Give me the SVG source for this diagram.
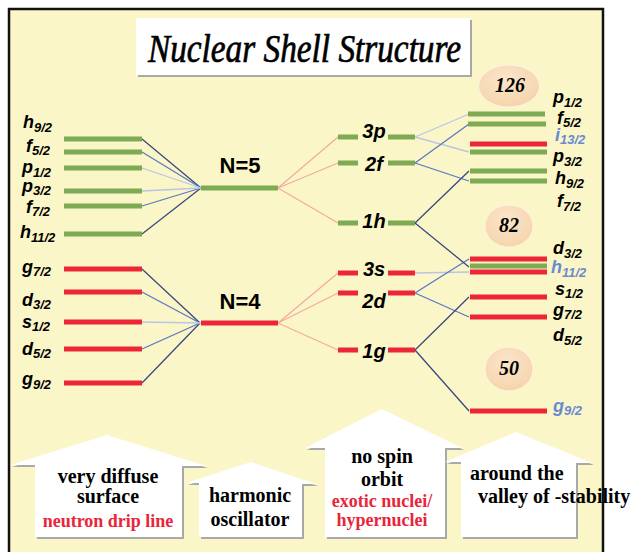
<svg xmlns="http://www.w3.org/2000/svg" width="642" height="552" viewBox="0 0 642 552">
<defs>
<radialGradient id="ov" cx="0.45" cy="0.35" r="0.7">
<stop offset="0" stop-color="#fbe6cc"/>
<stop offset="1" stop-color="#f5d3a9"/>
</radialGradient>
<style>
.g{stroke:#7daa52;stroke-width:5}
.r{stroke:#ec2637;stroke-width:5}
.dk{stroke:#3b4a7e;stroke-width:1.3;fill:none}
.md{stroke:#5a78c2;stroke-width:1.3;fill:none}
.lt{stroke:#b9c5e5;stroke-width:1.3;fill:none}
.pk{stroke:#f4aba3;stroke-width:1.3;fill:none}
.lbl{font-family:"Liberation Sans",Arial,sans-serif;font-weight:bold;font-style:italic;font-size:18px;fill:#000}
.sub{font-size:13px}
.blue{fill:#6a8ad0}
.mid{font-family:"Liberation Sans",Arial,sans-serif;font-weight:bold;font-style:italic;font-size:20px;text-anchor:middle}
.nn{font-family:"Liberation Sans",Arial,sans-serif;font-weight:bold;font-size:22px;text-anchor:middle}
.mag{font-family:"Liberation Serif","Times New Roman",serif;font-weight:bold;font-style:italic;font-size:20px;text-anchor:middle}
.oval{fill:url(#ov);stroke:#fff3e6;stroke-width:1}
.arr{font-family:"Liberation Serif","Times New Roman",serif;font-weight:bold;font-size:20px;text-anchor:middle;fill:#000}
.red{fill:#e8253a;font-size:18px}
.sh{fill:#a9a9a9}
.wh{fill:#fff}
</style>
</defs>
<rect x="0" y="0" width="642" height="552" fill="#fff"/>
<rect x="9" y="9" width="594" height="560" fill="#fbf6c7"/>

<g id="title">
<rect x="138" y="20" width="334" height="57" class="sh"/>
<rect x="136" y="18" width="334" height="57" fill="#fff"/>
<text x="148" y="62" font-family="'Liberation Serif','Times New Roman',serif" font-style="italic" font-size="40" stroke="#000" stroke-width="0.7" textLength="313" lengthAdjust="spacingAndGlyphs">Nuclear Shell Structure</text>
</g>

<g id="connectors">
<path class="dk" d="M142 139L201 188M142 234L201 188"/>
<path class="md" d="M142 152L201 188M142 206L201 188"/>
<path class="lt" d="M142 168L201 188M142 191L201 188"/>
<path class="dk" d="M142 269L200 323M142 383L200 323"/>
<path class="md" d="M142 292L200 323M142 349L200 323"/>
<path class="lt" d="M142 322L200 323"/>
<path class="pk" d="M278 188L338 137M278 188L338 163M278 188L338 223M278 323L338 273M278 323L338 293M278 323L338 350"/>
<path class="lt" d="M415 137L469 114M415 137L469 152M415 273L469 272"/>
<path class="md" d="M415 163L469 124M415 163L469 181M415 293L469 259M415 293L469 317"/>
<path class="dk" d="M415 223L469 171M415 223L469 267M415 350L469 297M415 350L469 411"/>
</g>

<g id="left-levels">
<line class="g" x1="64" y1="139" x2="142" y2="139"/>
<line class="g" x1="64" y1="152" x2="142" y2="152"/>
<line class="g" x1="64" y1="168" x2="142" y2="168"/>
<line class="g" x1="64" y1="191" x2="142" y2="191"/>
<line class="g" x1="64" y1="206" x2="142" y2="206"/>
<line class="g" x1="64" y1="234" x2="142" y2="234"/>
<line class="r" x1="64" y1="269" x2="142" y2="269"/>
<line class="r" x1="64" y1="292" x2="142" y2="292"/>
<line class="r" x1="64" y1="322" x2="142" y2="322"/>
<line class="r" x1="64" y1="349" x2="142" y2="349"/>
<line class="r" x1="64" y1="383" x2="142" y2="383"/>
<text class="lbl" x="23" y="128">h<tspan class="sub" dy="4">9/2</tspan></text>
<text class="lbl" x="26" y="152">f<tspan class="sub" dy="3">5/2</tspan></text>
<text class="lbl" x="22" y="173">p<tspan class="sub" dy="4">1/2</tspan></text>
<text class="lbl" x="22" y="192">p<tspan class="sub" dy="3">3/2</tspan></text>
<text class="lbl" x="26" y="213">f<tspan class="sub" dy="3">7/2</tspan></text>
<text class="lbl" x="20" y="238">h<tspan class="sub" dy="4">11/2</tspan></text>
<text class="lbl" x="22" y="273">g<tspan class="sub" dy="3">7/2</tspan></text>
<text class="lbl" x="22" y="306">d<tspan class="sub" dy="3">3/2</tspan></text>
<text class="lbl" x="22" y="328">s<tspan class="sub" dy="3">1/2</tspan></text>
<text class="lbl" x="22" y="355">d<tspan class="sub" dy="3">5/2</tspan></text>
<text class="lbl" x="22" y="385">g<tspan class="sub" dy="4">9/2</tspan></text>
</g>

<g id="N5">
<line class="g" x1="201" y1="188" x2="278" y2="188"/>
<text class="nn" x="240" y="173">N=5</text>
</g>
<g id="N4">
<line class="r" x1="201" y1="323" x2="278" y2="323"/>
<text class="nn" x="240" y="309">N=4</text>
</g>

<g id="sub-3p"><line class="g" x1="338" y1="137" x2="358" y2="137"/><line class="g" x1="388" y1="137" x2="415" y2="137"/><text class="mid" x="374" y="138">3p</text></g>
<g id="sub-2f"><line class="g" x1="338" y1="163" x2="358" y2="163"/><line class="g" x1="388" y1="163" x2="415" y2="163"/><text class="mid" x="374" y="171">2f</text></g>
<g id="sub-1h"><line class="g" x1="338" y1="223" x2="358" y2="223"/><line class="g" x1="388" y1="223" x2="415" y2="223"/><text class="mid" x="374" y="228">1h</text></g>
<g id="sub-3s"><line class="r" x1="338" y1="273" x2="358" y2="273"/><line class="r" x1="388" y1="273" x2="415" y2="273"/><text class="mid" x="374" y="276">3s</text></g>
<g id="sub-2d"><line class="r" x1="338" y1="293" x2="358" y2="293"/><line class="r" x1="388" y1="293" x2="415" y2="293"/><text class="mid" x="374" y="308">2d</text></g>
<g id="sub-1g"><line class="r" x1="338" y1="350" x2="358" y2="350"/><line class="r" x1="388" y1="350" x2="415" y2="350"/><text class="mid" x="374" y="358">1g</text></g>

<g id="right-levels">
<line class="g" x1="468" y1="114" x2="545" y2="114"/>
<line class="g" x1="468" y1="124" x2="546" y2="124"/>
<line class="r" x1="470" y1="144" x2="547" y2="144"/>
<line class="g" x1="470" y1="152" x2="547" y2="152"/>
<line class="g" x1="470" y1="171" x2="547" y2="171"/>
<line class="g" x1="470" y1="181" x2="547" y2="181"/>
<line class="r" x1="470" y1="259" x2="547" y2="259"/>
<line class="g" x1="470" y1="266" x2="547" y2="266"/>
<line class="r" x1="470" y1="272" x2="547" y2="272"/>
<line class="r" x1="470" y1="297" x2="547" y2="297"/>
<line class="r" x1="470" y1="317" x2="547" y2="317"/>
<line class="r" x1="470" y1="411" x2="547" y2="411"/>
<text class="lbl" x="553" y="103">p<tspan class="sub" dy="4">1/2</tspan></text>
<text class="lbl" x="557" y="124">f<tspan class="sub" dy="3">5/2</tspan></text>
<text class="lbl blue" x="555" y="141">i<tspan class="sub" dy="3">13/2</tspan></text>
<text class="lbl" x="553" y="162">p<tspan class="sub" dy="4">3/2</tspan></text>
<text class="lbl" x="555" y="184">h<tspan class="sub" dy="4">9/2</tspan></text>
<text class="lbl" x="557" y="207">f<tspan class="sub" dy="4">7/2</tspan></text>
<text class="lbl" x="553" y="254">d<tspan class="sub" dy="4">3/2</tspan></text>
<text class="lbl blue" x="551" y="273">h<tspan class="sub" dy="4">11/2</tspan></text>
<text class="lbl" x="555" y="295">s<tspan class="sub" dy="3">1/2</tspan></text>
<text class="lbl" x="553" y="316">g<tspan class="sub" dy="3">7/2</tspan></text>
<text class="lbl" x="553" y="341">d<tspan class="sub" dy="4">5/2</tspan></text>
<text class="lbl blue" x="553" y="412">g<tspan class="sub" dy="3">9/2</tspan></text>
</g>

<g id="magic-126"><ellipse class="oval" cx="509" cy="86" rx="30.5" ry="21"/><text class="mag" x="510" y="92">126</text></g>
<g id="magic-82"><ellipse class="oval" cx="509" cy="226" rx="24" ry="21"/><text class="mag" x="509" y="232">82</text></g>
<g id="magic-50"><ellipse class="oval" cx="509" cy="369" rx="24" ry="22"/><text class="mag" x="509" y="375">50</text></g>

<g id="arrow1">
<polygon class="sh" points="108,437 208,468 184,468 184,539 37,539 37,467 12,467"/>
<polygon class="wh" points="107,435 206,466 182,466 182,537 35,537 35,465 10,465"/>
<text class="arr" x="108" y="483">very diffuse</text>
<text class="arr" x="108" y="503">surface</text>
<text class="arr red" x="108" y="527">neutron drip line</text>
</g>
<g id="arrow2">
<polygon class="sh" points="252,464 318,486 304,486 304,539 201,539 201,485 188,485"/>
<polygon class="wh" points="251,462 316,484 302,484 302,537 199,537 199,483 186,483"/>
<text class="arr" x="250" y="502">harmonic</text>
<text class="arr" x="250" y="526">oscillator</text>
</g>
<g id="arrow3">
<polygon class="sh" points="383,411 464,450 447,450 447,539 327,539 327,450 307,450"/>
<polygon class="wh" points="382,409 462,448 445,448 445,537 325,537 325,448 305,448"/>
<text class="arr" x="382" y="463">no spin</text>
<text class="arr" x="382" y="486">orbit</text>
<text class="arr red" x="382" y="507">exotic nuclei/</text>
<text class="arr red" x="382" y="526">hypernuclei</text>
</g>
<g id="arrow4">
<polygon class="sh" points="517,434 594,465 578,465 578,539 463,539 463,464 447,464"/>
<polygon class="wh" points="516,432 592,463 576,463 576,537 461,537 461,462 445,462"/>
<text class="arr" x="470" y="480" style="text-anchor:start">around the</text>
<text class="arr" x="478" y="503" style="text-anchor:start">valley of -stability</text>
</g>

<path d="M9 560V9H603V560" fill="none" stroke="#111" stroke-width="2.5"/>
</svg>
